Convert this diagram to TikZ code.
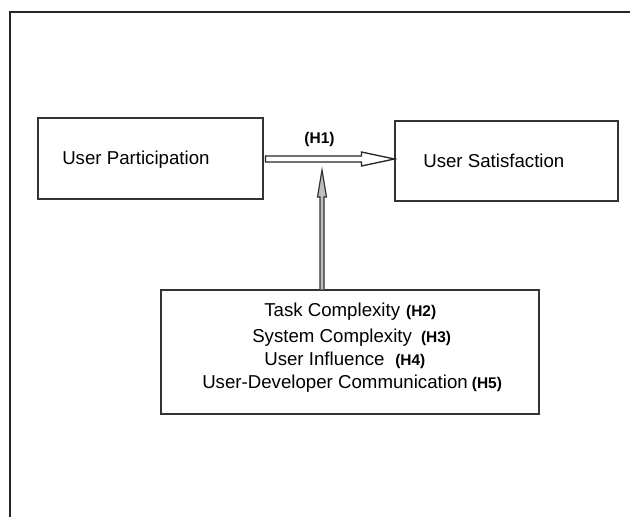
\documentclass[tikz,border=0pt]{standalone}
\usepackage{fontspec}
\setmainfont{Liberation Sans}
\usetikzlibrary{calc}
\newcommand{\hypfont}{\fontsize{11.6}{13}\selectfont\bfseries}
\begin{document}
\begin{tikzpicture}[x=0.75pt,y=-0.75pt,
  box/.style={draw=black!80, line width=0.8pt, inner sep=0pt},
  lbl/.style={anchor=base west, inner sep=0pt, font=\fontsize{14}{16}\selectfont},
  hyp/.style={font=\hypfont},
  harrow/.style={draw=black!85, line width=1pt, fill=white, line join=miter},
  varrow/.style={draw=black!80, line width=0.9pt, fill=black!25, line join=miter},
  frame/.style={draw=black!85, line width=1.1pt}]
\useasboundingbox[fill=white] (0,0) rectangle (630,517);
% outer frame
\draw[frame] (10,517) -- (10,12) -- (630,12);
% boxes
\node[box, minimum width=168.75pt, minimum height=60.75pt] (up) at (150.5,158.5) {};
\node[box, minimum width=167.25pt, minimum height=60pt] (us) at (506.5,161) {};
\node[box, minimum width=283.5pt, minimum height=93pt] (bb) at (350,352) {};
% box texts
\node[lbl] (uptext) at (62,164) {User Participation};
\node[lbl] (ustext) at (423,167) {User Satisfaction};
\node[lbl] (t2) at (264,316) {Task Complexity\hspace{4.5pt}{\hypfont (H2)}};
\node[lbl] (t3) at (252,342) {System Complexity\hspace{6.75pt}{\hypfont (H3)}};
\node[lbl] (t4) at (264,365) {User Influence\hspace{8pt}{\hypfont (H4)}};
\node[lbl] (t5) at (202,388) {User-Developer Communication\hspace{3pt}{\hypfont (H5)}};
% H1 label
\node[hyp, anchor=base, inner sep=0pt] (h1) at (319.5,143) {(H1)};
% horizontal hollow arrow
\coordinate (hs) at ($(up.east)+(2,0.5)$);
\coordinate (he) at (hs -| us.west);
\draw[harrow] ($(hs)+(0,-3)$) -- ($(he)+(-33,-3)$) -- ($(he)+(-33,-7)$) -- (he)
  -- ($(he)+(-33,7)$) -- ($(he)+(-33,3)$) -- ($(hs)+(0,3)$) -- cycle;
% vertical arrow
\coordinate (vs) at ($(bb.north)+(-28,0)$);
\coordinate (vt) at (322,170);
\draw[varrow] ($(vs)+(-2,0)$) -- ($(vt)+(-2,27)$) -- ($(vt)+(-4.5,27)$) -- (vt)
  -- ($(vt)+(4.5,27)$) -- ($(vt)+(2,27)$) -- ($(vs)+(2,0)$);
\end{tikzpicture}
\end{document}
